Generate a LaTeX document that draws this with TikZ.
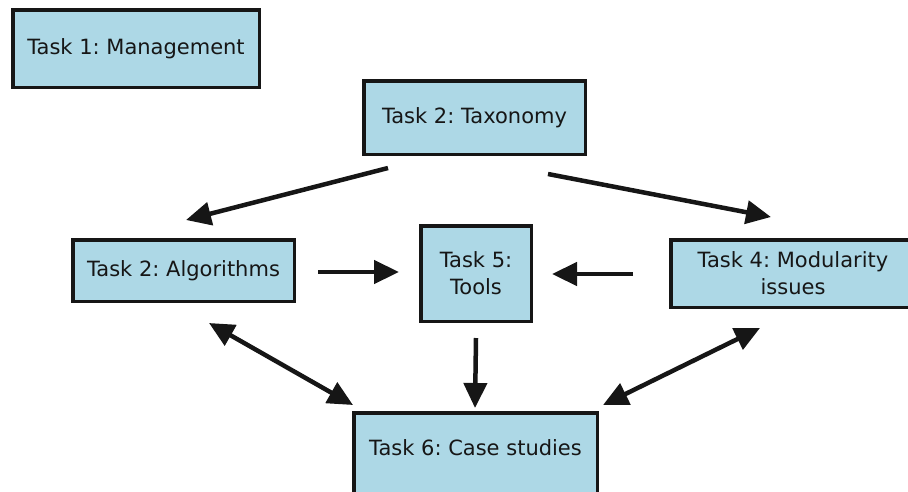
\documentclass[tikz,border=0pt]{standalone}
\usepackage{fontspec}
\setmainfont{DejaVu Sans}
\usetikzlibrary{arrows.meta}
\definecolor{boxfill}{RGB}{173,216,230}
\definecolor{inkdark}{RGB}{22,22,22}
\frenchspacing
\begin{document}
\begin{tikzpicture}[x=1pt,y=-1pt,
  task/.style={draw=inkdark, line width=3.5pt, fill=boxfill, inner sep=0pt,
    align=center, text=inkdark, font=\fontsize{21}{27}\selectfont},
  link/.style={draw=inkdark, line width=4.5pt, -{Triangle[length=25pt,width=23pt]}},
  twoway/.style={draw=inkdark, line width=4.5pt,
    {Triangle[length=25pt,width=23pt]}-{Triangle[length=25pt,width=23pt]}}]
\useasboundingbox (0,0) rectangle (908,491);
\clip (0,0) rectangle (908,491);

% work packages
\node[task, minimum width=246.5pt, minimum height=77.5pt] (mgmt) at (136,48.5) {Task 1: Management};
\node[task, minimum width=221.5pt, minimum height=73.5pt] (tax) at (474.5,117.5) {Task 2: Taxonomy};
\node[task, minimum width=221.5pt, minimum height=61.5pt] (alg) at (183.5,270.5) {Task 2: Algorithms};
\node[task, minimum width=110.5pt, minimum height=95.5pt] (tools) at (476,273.5) {Task 5:\\Tools};
\node[task, minimum width=244.5pt, minimum height=67.5pt] (mod) at (793,273.5) {Task 4: Modularity\\issues};
\node[task, minimum width=243.5pt, minimum height=82pt, text depth=13pt] (case) at (475.5,454) {Task 6: Case studies};

% arrow end points
\coordinate (taxL) at (388,168);
\coordinate (algT) at (186,220);
\coordinate (taxR) at (548,174);
\coordinate (modT) at (771,217);
\coordinate (algR) at (318,272);
\coordinate (toolsL) at (399,272);
\coordinate (modL) at (633,274);
\coordinate (toolsR) at (552,274);
\coordinate (toolsB) at (476,338);
\coordinate (caseT) at (475,408);
\coordinate (algB) at (209,323);
\coordinate (caseL) at (353,405);
\coordinate (modB) at (760,328);
\coordinate (caseR) at (603,405);

% dependencies
\draw[link] (taxL) -- (algT);
\draw[link] (taxR) -- (modT);
\draw[link] (algR) -- (toolsL);
\draw[link] (modL) -- (toolsR);
\draw[link] (toolsB) -- (caseT);
\draw[twoway] (algB) -- (caseL);
\draw[twoway] (modB) -- (caseR);
\end{tikzpicture}
\end{document}
